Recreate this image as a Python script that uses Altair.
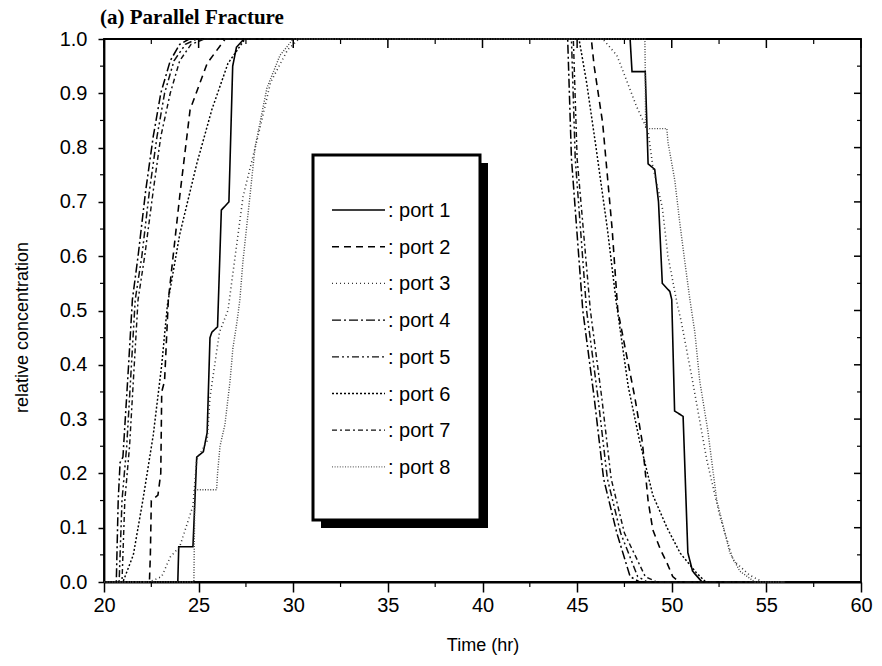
import altair as alt
import pandas as pd

# ---------------- data ----------------
ports = ["port 1", "port 2", "port 3", "port 4", "port 5", "port 6", "port 7", "port 8"]

port1_t = [20, 23.9, 23.95, 24.7, 24.9, 25.25, 25.45, 25.6, 25.7, 26.0, 26.2, 26.6, 26.8, 27.0, 27.4,
           47.8, 47.9, 48.6, 48.75, 49.1, 49.3, 49.5, 49.9, 50.0, 50.15, 50.6, 50.85, 51.1, 51.6, 56]
port1_c = [0, 0, 0.065, 0.065, 0.23, 0.24, 0.275, 0.45, 0.46, 0.47, 0.685, 0.70, 0.95, 0.985, 1.0,
           1.0, 0.94, 0.94, 0.77, 0.76, 0.70, 0.55, 0.535, 0.52, 0.315, 0.305, 0.054, 0.02, 0.0, 0.0]

port2_t = [20, 22.4, 22.45, 22.5, 22.85, 23.0, 23.05, 23.2, 23.4, 24.0, 24.55, 25.45, 26.4,
           45.75, 45.9, 46.35, 46.85, 47.15, 47.6, 48.05, 48.45, 48.75, 49.0, 49.4, 49.75, 50.05, 50.4, 56]
port2_c = [0, 0, 0.05, 0.15, 0.16, 0.2, 0.35, 0.37, 0.52, 0.71, 0.87, 0.955, 1.0,
           1.0, 0.95, 0.845, 0.65, 0.5, 0.42, 0.34, 0.256, 0.15, 0.096, 0.06, 0.035, 0.01, 0, 0]

port3_t = [20, 22.4, 23.05, 23.5, 24.0, 24.7, 24.9, 25.45, 25.6, 25.85, 26.1, 26.55, 27.35, 28.2, 28.8, 29.7, 30.3,
           46.35, 47.1, 48.15, 48.75, 49.0, 49.5, 49.8, 50.3, 50.5, 51.1, 51.85, 52.55, 53.25, 54.1, 54.8, 56]
port3_c = [0, 0, 0.01, 0.046, 0.065, 0.14, 0.225, 0.26, 0.34, 0.4, 0.46, 0.5, 0.71, 0.83, 0.92, 0.98, 1.0,
           1.0, 0.97, 0.875, 0.83, 0.765, 0.69, 0.6, 0.51, 0.48, 0.37, 0.225, 0.12, 0.04, 0.013, 0, 0]

port4_t = [20, 20.65, 20.75, 20.85, 21.0, 21.3, 21.5, 21.8, 22.2, 22.6, 23.0, 23.5, 24.0, 24.5,
           44.5, 44.7, 45.3, 45.9, 46.4, 47.1, 47.8, 48.3, 56]
port4_c = [0, 0, 0.15, 0.22, 0.23, 0.4, 0.52, 0.6, 0.72, 0.82, 0.9, 0.96, 0.99, 1.0,
           1.0, 0.78, 0.5, 0.34, 0.19, 0.09, 0.01, 0, 0]

port5_t = [20, 20.8, 20.95, 21.2, 21.45, 21.65, 22.0, 22.4, 22.8, 23.2, 23.7, 24.3, 24.9,
           44.7, 44.9, 45.5, 46.1, 46.6, 47.3, 48.2, 48.7, 56]
port5_c = [0, 0, 0.15, 0.25, 0.4, 0.52, 0.6, 0.72, 0.82, 0.9, 0.96, 0.99, 1.0,
           1.0, 0.78, 0.5, 0.34, 0.19, 0.09, 0.01, 0, 0]

port6_t = [20, 21.0, 21.55, 22.05, 22.6, 23.05, 23.35, 24.0, 24.9, 25.7, 26.55, 27.45,
           45.1, 45.5, 46.0, 46.6, 47.05, 47.7, 48.3, 49.0, 49.75, 50.45, 51.3, 51.8, 56]
port6_c = [0, 0, 0.05, 0.15, 0.27, 0.4, 0.51, 0.64, 0.77, 0.87, 0.955, 1.0,
           1.0, 0.92, 0.8, 0.65, 0.52, 0.36, 0.26, 0.16, 0.1, 0.053, 0.017, 0, 0]

port7_t = [20, 20.95, 21.1, 21.35, 21.6, 21.8, 22.15, 22.6, 23.0, 23.5, 24.0, 24.6, 25.3,
           44.8, 45.0, 45.7, 46.3, 46.8, 47.5, 48.6, 49.2, 56]
port7_c = [0, 0, 0.15, 0.25, 0.4, 0.52, 0.6, 0.72, 0.82, 0.9, 0.96, 0.99, 1.0,
           1.0, 0.78, 0.5, 0.34, 0.19, 0.09, 0.01, 0, 0]

port8_t = [20, 24.75, 24.8, 25.95, 26.0, 26.13, 26.39, 26.66, 26.81, 27.03, 27.18, 27.34, 27.71, 27.98, 28.61, 29.3, 30.0,
           48.58, 48.6, 48.62, 49.74, 49.8, 50.16, 50.43, 50.69, 50.96, 51.22, 51.48, 51.9, 52.38, 53.07, 53.6, 54.39, 56]
port8_c = [0, 0, 0.17, 0.17, 0.2, 0.25, 0.29, 0.37, 0.43, 0.48, 0.52, 0.59, 0.71, 0.8, 0.91, 0.97, 1.0,
           1.0, 0.94, 0.835, 0.835, 0.81, 0.74, 0.66, 0.59, 0.52, 0.46, 0.37, 0.28, 0.15, 0.054, 0.02, 0, 0]

series_t = [port1_t, port2_t, port3_t, port4_t, port5_t, port6_t, port7_t, port8_t]
series_c = [port1_c, port2_c, port3_c, port4_c, port5_c, port6_c, port7_c, port8_c]

x_ticks = [20, 25, 30, 35, 40, 45, 50, 55, 60]
x_minor = [22.5, 27.5, 32.5, 37.5, 42.5, 47.5, 52.5, 57.5]
y_ticks = [0.0, 0.1, 0.2, 0.3, 0.4, 0.5, 0.6, 0.7, 0.8, 0.9, 1.0]
y_minor = [0.05, 0.15, 0.25, 0.35, 0.45, 0.55, 0.65, 0.75, 0.85, 0.95]

title_text = "(a) Parallel Fracture"

# ---------------- styles ----------------
dashes = [[1, 0], [7, 5], [1, 3], [9, 3, 2, 3], [7, 3, 2, 3, 2, 3], [2, 2], [5, 3, 2, 3], [1, 1.6]]
widths = [1.6, 1.4, 1.1, 1.3, 1.3, 1.6, 1.3, 1.0]
colors = ["#000000", "#000000", "#333333", "#000000", "#111111", "#000000", "#111111", "#444444"]

W, H = 757, 543
FONT = "Liberation Sans"

rows = []
for p, ts, cs in zip(ports, series_t, series_c):
    for i, (t, c) in enumerate(zip(ts, cs)):
        rows.append({"port": p, "time": t, "conc": c, "idx": i})
df = pd.DataFrame(rows)

xscale = alt.Scale(domain=[20, 60], nice=False, zero=False)
yscale = alt.Scale(domain=[0, 1], nice=False)

x_axis = alt.Axis(values=x_ticks, title="Time (hr)", tickSize=10, labelPadding=3, labelFlush=False,
                  titleY=63, titleBaseline="middle", format="d")
y_axis = alt.Axis(values=y_ticks, title="relative concentration", tickSize=6, labelPadding=11,
                  labelFlush=False, format=".1f", titleX=-82, titleY=288, titleBaseline="middle")

lines = alt.Chart(df).mark_line(interpolate="linear").encode(
    x=alt.X("time:Q", scale=xscale, axis=x_axis),
    y=alt.Y("conc:Q", scale=yscale, axis=y_axis),
    detail="port:N",
    order=alt.Order("idx:Q"),
    strokeDash=alt.StrokeDash("port:N", scale=alt.Scale(domain=ports, range=dashes), legend=None),
    color=alt.Color("port:N", scale=alt.Scale(domain=ports, range=colors), legend=None),
    strokeWidth=alt.StrokeWidth("port:N", scale=alt.Scale(domain=ports, range=widths), legend=None),
)

# extra tick marks (minor ticks and inward ticks on top / right)
def xrule(vals, y0, y1, sw):
    return alt.Chart(pd.DataFrame({"time": vals})).mark_rule(color="black", strokeWidth=sw).encode(
        x=alt.X("time:Q", scale=xscale, axis=x_axis), y=alt.value(y0), y2=alt.value(y1))

def yrule(vals, x0, x1, sw):
    return alt.Chart(pd.DataFrame({"conc": vals})).mark_rule(color="black", strokeWidth=sw).encode(
        y=alt.Y("conc:Q", scale=yscale, axis=y_axis), x=alt.value(x0), x2=alt.value(x1))

tick_layers = [
    xrule(x_ticks, 0, 9, 1.5),
    xrule(x_minor, 0, 5, 1.2),
    xrule(x_minor, H, H + 5, 1.2),
    yrule(y_ticks, W, W - 7, 1.5),
    yrule(y_minor, W, W - 4, 1.2),
    yrule(y_minor, 0, -4, 1.2),
]

# legend box (drawn by hand, with shadow)
LX0, LX1, LY0, LY1 = 209, 376, 116, 481
box_df = pd.DataFrame({"k": [0]})
shadow = alt.Chart(box_df).mark_rect(color="black").encode(
    x=alt.value(LX0 + 8), x2=alt.value(LX1 + 8), y=alt.value(LY0 + 8), y2=alt.value(LY1 + 8))
frame = alt.Chart(box_df).mark_rect(fill="white", stroke="black", strokeWidth=3).encode(
    x=alt.value(LX0), x2=alt.value(LX1), y=alt.value(LY0), y2=alt.value(LY1))

legend_layers = []
for i, p in enumerate(ports):
    ry = 171 + 36.7 * i
    ldf = pd.DataFrame({"port": [p], "label": [": " + p]})
    legend_layers.append(
        alt.Chart(ldf).mark_rule(strokeDash=dashes[i], strokeWidth=widths[i], color=colors[i]).encode(
            x=alt.value(LX0 + 19), x2=alt.value(LX0 + 72), y=alt.value(ry)))
    legend_layers.append(
        alt.Chart(ldf).mark_text(align="left", baseline="middle", font=FONT, fontSize=20, color="black").encode(
            x=alt.value(LX0 + 75), y=alt.value(ry + 1), text="label:N"))

title = alt.Chart(pd.DataFrame({"label": [title_text]})).mark_text(
    align="left", baseline="alphabetic", font="Liberation Serif", fontSize=21, fontWeight="bold", color="black"
).encode(x=alt.value(-4), y=alt.value(-15), text="label:N")

chart = alt.layer(
    lines, *tick_layers, shadow, frame, *legend_layers, title
).properties(
    width=W, height=H,
    padding={"left": 104, "top": 39, "right": 21, "bottom": 84},
    autosize=alt.AutoSizeParams(type="none"),
).configure_view(
    stroke="black", strokeWidth=1.8
).configure_axis(
    domainColor="black", domainWidth=1.8, tickColor="black", tickWidth=1.5,
    labelFont=FONT, labelFontSize=20, labelColor="black",
    titleFont=FONT, titleFontSize=18, titleFontWeight="normal", titleColor="black",
    grid=False
)

chart.save("out.html", embed_options={"renderer": "svg", "actions": False})
